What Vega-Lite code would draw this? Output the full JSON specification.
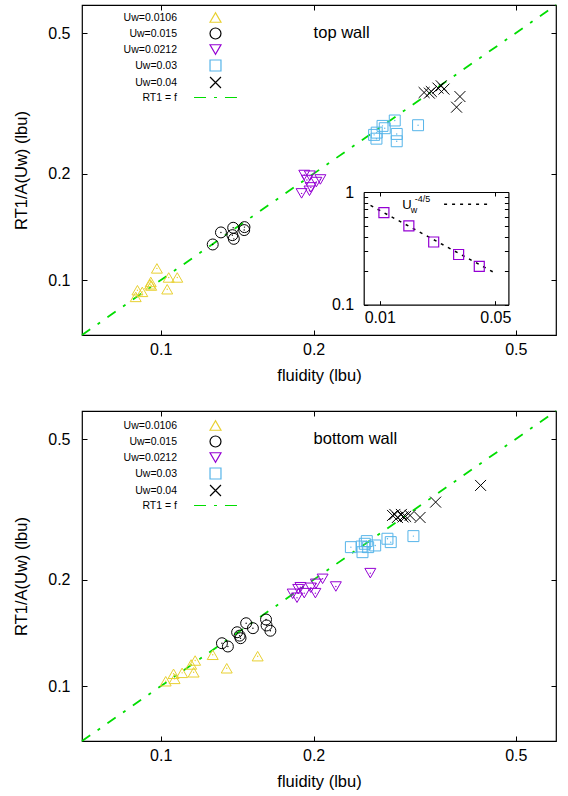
{
  "$schema": "https://vega.github.io/schema/vega-lite/v6.json",
  "padding": {"left": 13, "top": 0, "right": 5, "bottom": 5},
  "spacing": 21,
  "config": {
    "font": "Liberation Sans",
    "view": {"stroke": "#000", "strokeWidth": 1.2},
    "axis": {"grid": false, "labelFont": "Liberation Sans", "labelFontSize": 16, "labelColor": "#000", "titleFont": "Liberation Sans", "titleFontSize": 16.5, "titleFontWeight": "normal", "titleColor": "#000", "domainColor": "#000", "domainWidth": 1.2, "tickColor": "#000", "tickWidth": 1, "tickSize": -5, "labelPadding": 15}
  },
  "datasets": {
    "diag": [{"f": 0.07, "r": 0.07}, {"f": 0.6, "r": 0.6}],
    "top": [
      {"s": "Uw=0.0106", "f": 0.0983, "r": 0.108}, {"s": "Uw=0.0106", "f": 0.1037, "r": 0.1018}, {"s": "Uw=0.0106", "f": 0.1078, "r": 0.1018}, {"s": "Uw=0.0106", "f": 0.0956, "r": 0.0989}, {"s": "Uw=0.0106", "f": 0.0953, "r": 0.0974}, {"s": "Uw=0.0106", "f": 0.0958, "r": 0.0966}, {"s": "Uw=0.0106", "f": 0.09, "r": 0.0937}, {"s": "Uw=0.0106", "f": 0.092, "r": 0.0927}, {"s": "Uw=0.0106", "f": 0.0893, "r": 0.0897}, {"s": "Uw=0.0106", "f": 0.103, "r": 0.0943},
      {"s": "Uw=0.015", "f": 0.1266, "r": 0.1262}, {"s": "Uw=0.015", "f": 0.1314, "r": 0.1365}, {"s": "Uw=0.015", "f": 0.1389, "r": 0.1407}, {"s": "Uw=0.015", "f": 0.1384, "r": 0.1341}, {"s": "Uw=0.015", "f": 0.1393, "r": 0.1309}, {"s": "Uw=0.015", "f": 0.1462, "r": 0.1413}, {"s": "Uw=0.015", "f": 0.146, "r": 0.1386},
      {"s": "Uw=0.0212", "f": 0.1917, "r": 0.1984}, {"s": "Uw=0.0212", "f": 0.1966, "r": 0.1975}, {"s": "Uw=0.0212", "f": 0.194, "r": 0.192}, {"s": "Uw=0.0212", "f": 0.2062, "r": 0.1927}, {"s": "Uw=0.0212", "f": 0.2025, "r": 0.1895}, {"s": "Uw=0.0212", "f": 0.1975, "r": 0.183}, {"s": "Uw=0.0212", "f": 0.1894, "r": 0.176}, {"s": "Uw=0.0212", "f": 0.1963, "r": 0.179},
      {"s": "Uw=0.03", "f": 0.2889, "r": 0.2829}, {"s": "Uw=0.03", "f": 0.2761, "r": 0.269}, {"s": "Uw=0.03", "f": 0.2662, "r": 0.2614}, {"s": "Uw=0.03", "f": 0.2659, "r": 0.2513}, {"s": "Uw=0.03", "f": 0.2915, "r": 0.2592}, {"s": "Uw=0.03", "f": 0.2915, "r": 0.2471}, {"s": "Uw=0.03", "f": 0.3211, "r": 0.2743}, {"s": "Uw=0.03", "f": 0.2733, "r": 0.2731}, {"s": "Uw=0.03", "f": 0.2631, "r": 0.2576},
      {"s": "Uw=0.04", "f": 0.33, "r": 0.3394}, {"s": "Uw=0.04", "f": 0.341, "r": 0.3416}, {"s": "Uw=0.04", "f": 0.3514, "r": 0.3493}, {"s": "Uw=0.04", "f": 0.3567, "r": 0.3545}, {"s": "Uw=0.04", "f": 0.3882, "r": 0.3306}, {"s": "Uw=0.04", "f": 0.3823, "r": 0.3085}, {"s": "Uw=0.04", "f": 0.338, "r": 0.338}, {"s": "Uw=0.04", "f": 0.3611, "r": 0.347}
    ],
    "bottom": [
      {"s": "Uw=0.0106", "f": 0.1023, "r": 0.1033}, {"s": "Uw=0.0106", "f": 0.1065, "r": 0.1049}, {"s": "Uw=0.0106", "f": 0.106, "r": 0.1084}, {"s": "Uw=0.0106", "f": 0.1102, "r": 0.1091}, {"s": "Uw=0.0106", "f": 0.1161, "r": 0.1095}, {"s": "Uw=0.0106", "f": 0.1148, "r": 0.1152}, {"s": "Uw=0.0106", "f": 0.1169, "r": 0.1182}, {"s": "Uw=0.0106", "f": 0.1266, "r": 0.1227}, {"s": "Uw=0.0106", "f": 0.1349, "r": 0.1124}, {"s": "Uw=0.0106", "f": 0.1552, "r": 0.1216},
      {"s": "Uw=0.015", "f": 0.132, "r": 0.1323}, {"s": "Uw=0.015", "f": 0.1356, "r": 0.1295}, {"s": "Uw=0.015", "f": 0.1414, "r": 0.1421}, {"s": "Uw=0.015", "f": 0.1436, "r": 0.1367}, {"s": "Uw=0.015", "f": 0.1473, "r": 0.1507}, {"s": "Uw=0.015", "f": 0.1519, "r": 0.1459}, {"s": "Uw=0.015", "f": 0.1612, "r": 0.1544}, {"s": "Uw=0.015", "f": 0.1616, "r": 0.1485}, {"s": "Uw=0.015", "f": 0.1644, "r": 0.1435}, {"s": "Uw=0.015", "f": 0.143, "r": 0.139},
      {"s": "Uw=0.0212", "f": 0.2586, "r": 0.2088}, {"s": "Uw=0.0212", "f": 0.2083, "r": 0.2012}, {"s": "Uw=0.0212", "f": 0.2212, "r": 0.1914}, {"s": "Uw=0.0212", "f": 0.2021, "r": 0.1948}, {"s": "Uw=0.0212", "f": 0.1975, "r": 0.1898}, {"s": "Uw=0.0212", "f": 0.1884, "r": 0.1905}, {"s": "Uw=0.0212", "f": 0.1819, "r": 0.1825}, {"s": "Uw=0.0212", "f": 0.1855, "r": 0.1779}, {"s": "Uw=0.0212", "f": 0.1917, "r": 0.1833}, {"s": "Uw=0.0212", "f": 0.2016, "r": 0.1833}, {"s": "Uw=0.0212", "f": 0.1865, "r": 0.1881},
      {"s": "Uw=0.03", "f": 0.2368, "r": 0.2473}, {"s": "Uw=0.03", "f": 0.2496, "r": 0.2393}, {"s": "Uw=0.03", "f": 0.2522, "r": 0.2528}, {"s": "Uw=0.03", "f": 0.2545, "r": 0.2572}, {"s": "Uw=0.03", "f": 0.2561, "r": 0.2473}, {"s": "Uw=0.03", "f": 0.2644, "r": 0.25}, {"s": "Uw=0.03", "f": 0.2795, "r": 0.2612}, {"s": "Uw=0.03", "f": 0.2837, "r": 0.2555}, {"s": "Uw=0.03", "f": 0.3144, "r": 0.2657}, {"s": "Uw=0.03", "f": 0.2486, "r": 0.2483},
      {"s": "Uw=0.04", "f": 0.286, "r": 0.304}, {"s": "Uw=0.04", "f": 0.2924, "r": 0.3}, {"s": "Uw=0.04", "f": 0.2977, "r": 0.306}, {"s": "Uw=0.04", "f": 0.3035, "r": 0.302}, {"s": "Uw=0.04", "f": 0.3097, "r": 0.304}, {"s": "Uw=0.04", "f": 0.324, "r": 0.3}, {"s": "Uw=0.04", "f": 0.3477, "r": 0.3315}, {"s": "Uw=0.04", "f": 0.4263, "r": 0.3696}, {"s": "Uw=0.04", "f": 0.289, "r": 0.306}, {"s": "Uw=0.04", "f": 0.3, "r": 0.301}
    ],
    "inset": [
      {"u": 0.0106, "a": 0.655}, {"u": 0.015, "a": 0.501}, {"u": 0.0212, "a": 0.36}, {"u": 0.03, "a": 0.279}, {"u": 0.04, "a": 0.219}
    ],
    "power": [{"u": 0.0088, "a": 0.76}, {"u": 0.0512, "a": 0.187}]
  },
  "vconcat": [
    {
      "width": 474, "height": 330,
      "layer": [
        {
          "layer": [
            {
              "data": {"name": "diag"},
              "mark": {"type": "line", "color": "#00dd00", "strokeWidth": 1.8, "strokeDash": [10, 9, 3, 9]},
              "encoding": {
                "x": {"field": "f", "type": "quantitative", "scale": {"type": "log", "domain": [0.07, 0.6], "nice": false}, "axis": {"orient": "top", "values": [0.1, 0.2, 0.5], "labels": false, "domain": false, "title": null}},
                "y": {"field": "r", "type": "quantitative", "scale": {"type": "log", "domain": [0.07, 0.6], "nice": false}, "axis": {"orient": "right", "values": [0.1, 0.2, 0.5], "labels": false, "domain": false, "title": null}}
              }
            },
            {
              "data": {"name": "top"},
              "mark": {"type": "point", "filled": false, "size": 120, "strokeWidth": 1, "opacity": 1},
              "encoding": {
                "x": {"field": "f", "type": "quantitative", "scale": {"type": "log", "domain": [0.07, 0.6], "nice": false}, "axis": {"orient": "bottom", "values": [0.1, 0.2, 0.5], "format": "~g", "domain": false, "title": "fluidity (lbu)", "labelPadding": 11, "titlePadding": 10}},
                "y": {"field": "r", "type": "quantitative", "scale": {"type": "log", "domain": [0.07, 0.6], "nice": false}, "axis": {"orient": "left", "values": [0.1, 0.2, 0.5], "format": "~g", "domain": false, "title": "RT1/A(Uw) (lbu)", "labelPadding": 17, "titlePadding": 18}},
                "color": {"field": "s", "type": "nominal", "scale": {"domain": ["Uw=0.0106", "Uw=0.015", "Uw=0.0212", "Uw=0.03", "Uw=0.04", "RT1 = f"], "range": ["#e8d030", "#000000", "#9400d3", "#56b4e9", "#000000", "#00dd00"]}, "legend": {"orient": "none", "legendX": 127, "legendY": 6, "direction": "vertical", "title": null, "labelAlign": "right", "labelOffset": -45, "labelFontSize": 10.5, "labelFont": "Liberation Sans", "labelColor": "#000", "symbolSize": 120, "symbolStrokeWidth": 1.2, "symbolFillColor": "transparent", "rowPadding": 0}},
                "shape": {"field": "s", "type": "nominal", "scale": {"domain": ["Uw=0.0106", "Uw=0.015", "Uw=0.0212", "Uw=0.03", "Uw=0.04", "RT1 = f"], "range": ["triangle-up", "circle", "triangle-down", "square", "M-1,-1L1,1M-1,1L1,-1", "M-3.92,0H-1.73M-0.27,0H0.27M1.73,0H3.92"]}, "legend": {"orient": "none", "legendX": 127, "legendY": 6, "direction": "vertical", "title": null, "labelAlign": "right", "labelOffset": -45, "labelFontSize": 10.5, "labelFont": "Liberation Sans", "labelColor": "#000", "symbolSize": 120, "symbolStrokeWidth": 1.2, "symbolFillColor": "transparent", "rowPadding": 0}}
              }
            },
            {
              "data": {"name": "top"},
              "transform": [{"filter": "datum.s != 'Uw=0.04'"}],
              "mark": {"type": "point", "filled": true, "shape": "circle", "size": 2, "opacity": 1},
              "encoding": {
                "x": {"field": "f", "type": "quantitative", "scale": {"type": "log", "domain": [0.07, 0.6], "nice": false}, "axis": null},
                "y": {"field": "r", "type": "quantitative", "scale": {"type": "log", "domain": [0.07, 0.6], "nice": false}, "axis": null},
                "color": {"condition": [{"test": "datum.s == 'Uw=0.0106'", "value": "#e8d030"}, {"test": "datum.s == 'Uw=0.0212'", "value": "#9400d3"}, {"test": "datum.s == 'Uw=0.03'", "value": "#56b4e9"}], "value": "#000000"}
              }
            },
            {
              "data": {"values": [{"t": "top wall"}]},
              "mark": {"type": "text", "align": "left", "baseline": "middle", "fontSize": 16.5, "font": "Liberation Sans", "color": "#000"},
              "encoding": {
                "text": {"field": "t"},
                "x": {"datum": 0.2, "type": "quantitative", "scale": {"type": "log", "domain": [0.07, 0.6], "nice": false}, "axis": null},
                "y": {"datum": 0.5, "type": "quantitative", "scale": {"type": "log", "domain": [0.07, 0.6], "nice": false}, "axis": null}
              }
            }
          ],
          "resolve": {"axis": {"x": "independent", "y": "independent"}}
        },
        {
          "layer": [
            {
              "data": {"name": "power"},
              "mark": {"type": "line", "color": "#000", "strokeWidth": 1.5, "strokeDash": [3, 5]},
              "encoding": {
                "x": {"field": "u", "type": "quantitative", "scale": {"type": "log", "domain": [0.008, 0.06], "range": [281.7, 426.4], "nice": false}, "axis": {"orient": "bottom", "offset": -30.3, "values": [0.01, 0.05], "format": "~g", "title": null, "tickSize": -4, "labelPadding": 9}},
                "y": {"field": "a", "type": "quantitative", "scale": {"type": "log", "domain": [0.1, 1], "range": [299.7, 187], "nice": false}, "axis": {"orient": "left", "offset": -281.7, "values": [0.1, 0.2, 0.3, 0.4, 0.5, 0.6, 0.7, 0.8, 0.9, 1], "format": "~g", "labelExpr": "datum.value == 0.1 || datum.value == 1 ? datum.label : ''", "title": null, "tickSize": -4, "labelPadding": 14}}
              }
            },
            {
              "data": {"name": "inset"},
              "mark": {"type": "point", "shape": "square", "filled": false, "size": 100, "strokeWidth": 1.2, "color": "#9400d3", "opacity": 1},
              "encoding": {
                "x": {"field": "u", "type": "quantitative", "scale": {"type": "log", "domain": [0.008, 0.06], "range": [281.7, 426.4], "nice": false}, "axis": {"orient": "top", "offset": -187, "values": [0.01, 0.05], "labels": false, "title": null, "tickSize": -4}},
                "y": {"field": "a", "type": "quantitative", "scale": {"type": "log", "domain": [0.1, 1], "range": [299.7, 187], "nice": false}, "axis": {"orient": "right", "offset": -47.6, "values": [0.1, 0.2, 0.3, 0.4, 0.5, 0.6, 0.7, 0.8, 0.9, 1], "labels": false, "title": null, "tickSize": -4}}
              }
            },
            {
              "data": {"values": [{"t": "U"}]},
              "mark": {"type": "text", "align": "left", "baseline": "middle", "fontSize": 13, "font": "Liberation Sans", "color": "#000"},
              "encoding": {
                "text": {"field": "t"},
                "x": {"datum": 0.0137, "type": "quantitative", "scale": {"type": "log", "domain": [0.008, 0.06], "range": [281.7, 426.4], "nice": false}, "axis": null},
                "y": {"datum": 0.77, "type": "quantitative", "scale": {"type": "log", "domain": [0.1, 1], "range": [299.7, 187], "nice": false}, "axis": null}
              }
            },
            {
              "data": {"values": [{"t": "w"}]},
              "mark": {"type": "text", "align": "left", "baseline": "middle", "fontSize": 9, "font": "Liberation Sans", "color": "#000"},
              "encoding": {
                "text": {"field": "t"},
                "x": {"datum": 0.0154, "type": "quantitative", "scale": {"type": "log", "domain": [0.008, 0.06], "range": [281.7, 426.4], "nice": false}, "axis": null},
                "y": {"datum": 0.695, "type": "quantitative", "scale": {"type": "log", "domain": [0.1, 1], "range": [299.7, 187], "nice": false}, "axis": null}
              }
            },
            {
              "data": {"values": [{"t": "-4/5"}]},
              "mark": {"type": "text", "align": "left", "baseline": "middle", "fontSize": 9, "font": "Liberation Sans", "color": "#000"},
              "encoding": {
                "text": {"field": "t"},
                "x": {"datum": 0.0163, "type": "quantitative", "scale": {"type": "log", "domain": [0.008, 0.06], "range": [281.7, 426.4], "nice": false}, "axis": null},
                "y": {"datum": 0.87, "type": "quantitative", "scale": {"type": "log", "domain": [0.1, 1], "range": [299.7, 187], "nice": false}, "axis": null}
              }
            },
            {
              "data": {"values": [{"t": "Uw^-4/5"}]},
              "mark": {"type": "rule", "color": "#000", "strokeWidth": 1.5, "strokeDash": [3, 5]},
              "encoding": {
                "x": {"datum": 0.0245, "type": "quantitative", "scale": {"type": "log", "domain": [0.008, 0.06], "range": [281.7, 426.4], "nice": false}, "axis": null},
                "x2": {"datum": 0.0462},
                "y": {"datum": 0.78, "type": "quantitative", "scale": {"type": "log", "domain": [0.1, 1], "range": [299.7, 187], "nice": false}, "axis": null}
              }
            }
          ],
          "resolve": {"axis": {"x": "independent", "y": "independent"}}
        }
      ],
      "resolve": {"scale": {"x": "independent", "y": "independent"}, "axis": {"x": "independent", "y": "independent"}}
    },
    {
      "width": 474, "height": 330,
      "layer": [
        {
          "data": {"name": "diag"},
          "mark": {"type": "line", "color": "#00dd00", "strokeWidth": 1.8, "strokeDash": [10, 9, 3, 9]},
          "encoding": {
            "x": {"field": "f", "type": "quantitative", "scale": {"type": "log", "domain": [0.07, 0.6], "nice": false}, "axis": {"orient": "top", "values": [0.1, 0.2, 0.5], "labels": false, "domain": false, "title": null}},
            "y": {"field": "r", "type": "quantitative", "scale": {"type": "log", "domain": [0.07, 0.6], "nice": false}, "axis": {"orient": "right", "values": [0.1, 0.2, 0.5], "labels": false, "domain": false, "title": null}}
          }
        },
        {
          "data": {"name": "bottom"},
          "mark": {"type": "point", "filled": false, "size": 120, "strokeWidth": 1, "opacity": 1},
          "encoding": {
            "x": {"field": "f", "type": "quantitative", "scale": {"type": "log", "domain": [0.07, 0.6], "nice": false}, "axis": {"orient": "bottom", "values": [0.1, 0.2, 0.5], "format": "~g", "domain": false, "title": "fluidity (lbu)", "labelPadding": 11, "titlePadding": 10}},
            "y": {"field": "r", "type": "quantitative", "scale": {"type": "log", "domain": [0.07, 0.6], "nice": false}, "axis": {"orient": "left", "values": [0.1, 0.2, 0.5], "format": "~g", "domain": false, "title": "RT1/A(Uw) (lbu)", "labelPadding": 17, "titlePadding": 18}},
            "color": {"field": "s", "type": "nominal", "scale": {"domain": ["Uw=0.0106", "Uw=0.015", "Uw=0.0212", "Uw=0.03", "Uw=0.04", "RT1 = f"], "range": ["#e8d030", "#000000", "#9400d3", "#56b4e9", "#000000", "#00dd00"]}, "legend": {"orient": "none", "legendX": 127, "legendY": 8, "direction": "vertical", "title": null, "labelAlign": "right", "labelOffset": -45, "labelFontSize": 10.5, "labelFont": "Liberation Sans", "labelColor": "#000", "symbolSize": 120, "symbolStrokeWidth": 1.2, "symbolFillColor": "transparent", "rowPadding": 0}},
            "shape": {"field": "s", "type": "nominal", "scale": {"domain": ["Uw=0.0106", "Uw=0.015", "Uw=0.0212", "Uw=0.03", "Uw=0.04", "RT1 = f"], "range": ["triangle-up", "circle", "triangle-down", "square", "M-1,-1L1,1M-1,1L1,-1", "M-3.92,0H-1.73M-0.27,0H0.27M1.73,0H3.92"]}, "legend": {"orient": "none", "legendX": 127, "legendY": 8, "direction": "vertical", "title": null, "labelAlign": "right", "labelOffset": -45, "labelFontSize": 10.5, "labelFont": "Liberation Sans", "labelColor": "#000", "symbolSize": 120, "symbolStrokeWidth": 1.2, "symbolFillColor": "transparent", "rowPadding": 0}}
          }
        },
        {
          "data": {"name": "bottom"},
          "transform": [{"filter": "datum.s != 'Uw=0.04'"}],
          "mark": {"type": "point", "filled": true, "shape": "circle", "size": 2, "opacity": 1},
          "encoding": {
            "x": {"field": "f", "type": "quantitative", "scale": {"type": "log", "domain": [0.07, 0.6], "nice": false}, "axis": null},
            "y": {"field": "r", "type": "quantitative", "scale": {"type": "log", "domain": [0.07, 0.6], "nice": false}, "axis": null},
            "color": {"condition": [{"test": "datum.s == 'Uw=0.0106'", "value": "#e8d030"}, {"test": "datum.s == 'Uw=0.0212'", "value": "#9400d3"}, {"test": "datum.s == 'Uw=0.03'", "value": "#56b4e9"}], "value": "#000000"}
          }
        },
        {
          "data": {"values": [{"t": "bottom wall"}]},
          "mark": {"type": "text", "align": "left", "baseline": "middle", "fontSize": 16.5, "font": "Liberation Sans", "color": "#000"},
          "encoding": {
            "text": {"field": "t"},
            "x": {"datum": 0.2, "type": "quantitative", "scale": {"type": "log", "domain": [0.07, 0.6], "nice": false}, "axis": null},
            "y": {"datum": 0.5, "type": "quantitative", "scale": {"type": "log", "domain": [0.07, 0.6], "nice": false}, "axis": null}
          }
        }
      ],
      "resolve": {"axis": {"x": "independent", "y": "independent"}}
    }
  ],
  "resolve": {"scale": {"x": "independent", "y": "independent", "color": "independent", "shape": "independent"}, "legend": {"color": "independent", "shape": "independent"}}
}
